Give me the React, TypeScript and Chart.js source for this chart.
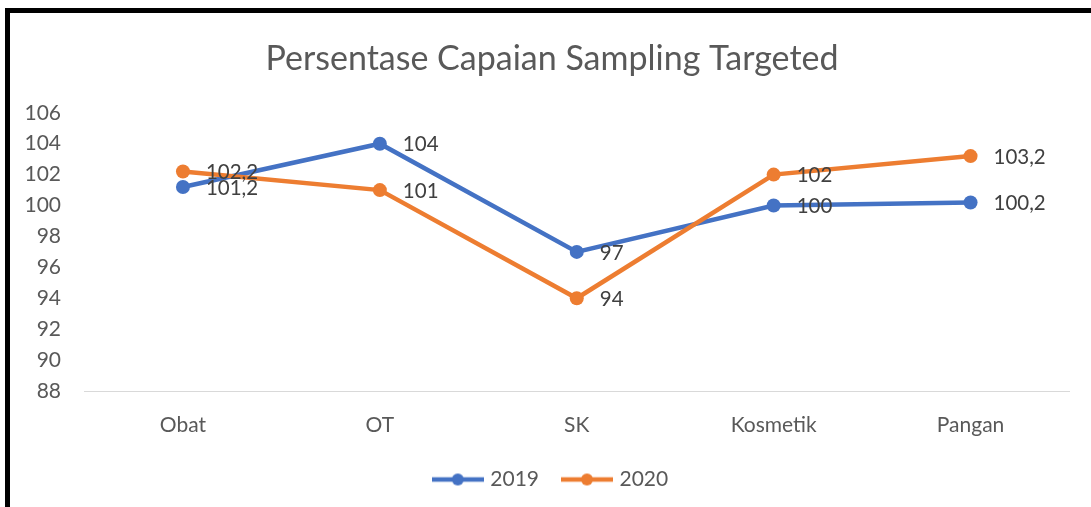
import React, { useEffect, useRef } from "react";
import { Chart, registerables } from "chart.js";

Chart.register(...registerables);

const TITLE = "Persentase Capaian Sampling Targeted";
const categories = ["Obat", "OT", "SK", "Kosmetik", "Pangan"];
const series2019 = [101.2, 104, 97, 100, 100.2];
const series2020 = [102.2, 101, 94, 102, 103.2];
const yMin = 88;
const yMax = 106;
const yStep = 2;

const BLUE = "#4472C4";
const ORANGE = "#ED7D31";
const FONT = "Lato, 'Noto Sans', sans-serif";

function legendMarker(color: string): HTMLCanvasElement {
  const c = document.createElement("canvas");
  c.width = 52;
  c.height = 16;
  const ctx = c.getContext("2d")!;
  ctx.strokeStyle = color;
  ctx.lineWidth = 4.5;
  ctx.beginPath();
  ctx.moveTo(0, 8);
  ctx.lineTo(52, 8);
  ctx.stroke();
  ctx.fillStyle = color;
  ctx.beginPath();
  ctx.arc(26, 8, 6, 0, Math.PI * 2);
  ctx.fill();
  return c;
}

const dataLabels = {
  id: "dataLabels",
  afterDatasetsDraw(chart: any) {
    const ctx = chart.ctx;
    ctx.save();
    ctx.font = `20.5px ${FONT}`;
    ctx.fillStyle = "#404040";
    ctx.textAlign = "left";
    ctx.textBaseline = "middle";
    chart.data.datasets.forEach((ds: any, i: number) => {
      const meta = chart.getDatasetMeta(i);
      meta.data.forEach((pt: any, j: number) => {
        const txt = String(ds.data[j]).replace(".", ",");
        ctx.fillText(txt, pt.x + 23, pt.y + 1);
      });
    });
    ctx.restore();
  },
};

export default function App() {
  const ref = useRef<HTMLCanvasElement>(null);
  useEffect(() => {
    const chart = new Chart(ref.current!, {
      type: "line",
      data: {
        labels: categories,
        datasets: [
          {
            label: "2019",
            data: series2019,
            borderColor: BLUE,
            backgroundColor: BLUE,
            pointBackgroundColor: BLUE,
            pointBorderColor: BLUE,
            borderWidth: 4.5,
            pointRadius: 7,
            pointBorderWidth: 0,
            order: 1,
            yAxisID: "y",
          },
          {
            label: "2020",
            data: series2020,
            borderColor: ORANGE,
            backgroundColor: ORANGE,
            pointBackgroundColor: ORANGE,
            pointBorderColor: ORANGE,
            borderWidth: 4.5,
            pointRadius: 7,
            pointBorderWidth: 0,
            order: 0,
            yAxisID: "y",
          },
        ],
      },
      options: {
        animation: false,
        responsive: false,
        maintainAspectRatio: false,
        layout: { padding: { left: 20, right: 7, top: 0, bottom: 7 } },
        elements: { point: { pointStyle: "circle" }, line: { tension: 0 } },
        plugins: {
          title: {
            display: true,
            text: TITLE,
            color: "#595959",
            font: { family: FONT, size: 34, weight: "normal" },
            padding: { top: 39, bottom: 33 },
          },
          legend: {
            display: true,
            position: "bottom",
            labels: {
              usePointStyle: true,
              pointStyleWidth: 44,
              padding: 26,
              color: "#595959",
              font: { family: FONT, size: 21 },
              sort: (a: any, b: any) => a.datasetIndex - b.datasetIndex,
              generateLabels: (chart: any) =>
                chart.data.datasets.map((ds: any, i: number) => ({
                  text: ds.label,
                  datasetIndex: i,
                  pointStyle: legendMarker(i === 0 ? BLUE : ORANGE),
                  fillStyle: "transparent",
                  strokeStyle: "transparent",
                  lineWidth: 0,
                  fontColor: "#595959",
                  hidden: false,
                })),
            },
          },
          tooltip: { enabled: false },
        },
        scales: {
          x: {
            offset: true,
            grid: { display: false, drawTicks: false },
            border: { display: true, color: "#D9D9D9", width: 1 },
            ticks: { color: "#595959", font: { family: FONT, size: 21 }, padding: 22 },
            afterFit: (s: any) => {
              s.height = 52;
            },
          },
          y: {
            position: "left",
            min: yMin,
            max: yMax,
            grid: { display: false, drawTicks: false },
            border: { display: false },
            ticks: {
              stepSize: yStep,
              color: "#595959",
              font: { family: FONT, size: 21 },
              padding: 23.5,
            },
            afterFit: (s: any) => {
              s.width = 64.5;
            },
          },
          yRight: {
            position: "right",
            min: yMin,
            max: yMax,
            grid: { display: false, drawTicks: false },
            border: { display: false },
            ticks: { display: false },
            afterFit: (s: any) => {
              s.width = 15;
            },
          },
        },
      },
      plugins: [dataLabels],
    } as any);
    return () => chart.destroy();
  }, []);

  return (
    <div style={{ position: "fixed", left: 0, top: 0, width: 1091, height: 507, background: "#fff", overflow: "hidden" }}>
      <canvas ref={ref} width={1091} height={507} style={{ position: "absolute", left: 0, top: 0 }} />
      <div
        style={{
          position: "absolute",
          left: 5,
          top: 8,
          width: 1200,
          height: 600,
          borderLeft: "5px solid #000",
          borderTop: "5px solid #000",
          pointerEvents: "none",
        }}
      />
    </div>
  );
}
